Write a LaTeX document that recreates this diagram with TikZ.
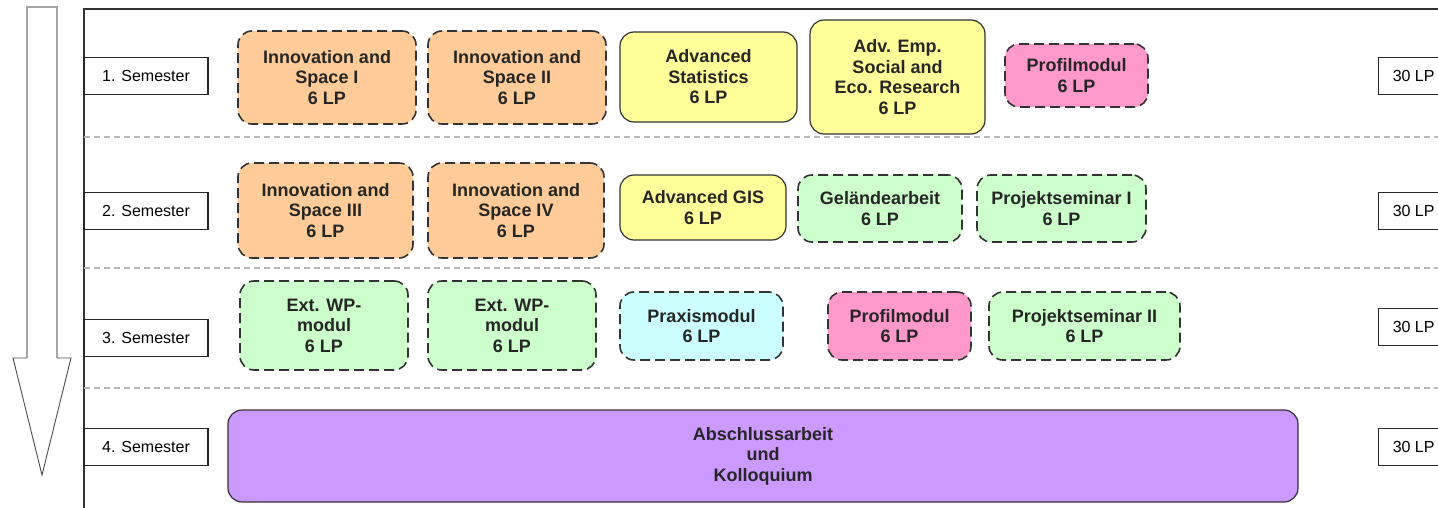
\documentclass[tikz,border=0pt]{standalone}
\usepackage{fontspec}
\setmainfont{Liberation Sans}
\usepackage{xcolor}

\definecolor{orangemod}{HTML}{FFCC99}
\definecolor{gelbmod}{HTML}{FFFF99}
\definecolor{rosamod}{HTML}{FF99CC}
\definecolor{gruenmod}{HTML}{CCFFCC}
\definecolor{tuerkismod}{HTML}{CCFFFF}
\definecolor{lilamod}{HTML}{CC99FF}

\newcommand{\modfont}{\fontsize{18}{20.5}\selectfont\bfseries}
\newcommand{\semfont}{\fontsize{16}{18}\selectfont}

\tikzset{
  modul/.style={draw=black!80, line width=1.2pt, rounded corners=14pt, align=center, font=\modfont, text=black!85, inner sep=0pt},
  wahlmodul/.style={modul, line width=1.6pt, dash pattern=on 10pt off 5pt},
  semester/.style={draw=black!85, line width=1.3pt, minimum width=124pt, minimum height=37pt, font=\semfont, inner sep=0pt},
  lpbox/.style={semester, minimum width=70pt, anchor=west},
  trenner/.style={draw=gray!55, line width=1.2pt, dash pattern=on 6pt off 4pt},
}

\begin{document}
\begin{tikzpicture}[x=1pt,y=-1pt]
    \useasboundingbox (0,0) rectangle (1438,508);
    \clip (0,0) rectangle (1438,508);
    % Zeitpfeil
    \draw[gray!70, line width=2pt] (27,358) -- (27,7) -- (57,7) -- (57,358);
    \draw[black!70, line width=0.9pt] (27,358) -- (13,358) -- (42,475) -- (71,358) -- (57,358);
    % Rahmen und Trennlinien
    \draw[black!80, line width=1.5pt] (84,508) -- (84,9) -- (1438,9);
    \foreach \y in {137,268,388}
        \draw[trenner] (84,\y) -- (1438,\y);
    % Semester und Leistungspunkte
    \node[semester] (sem1) at (146,76) {1. Semester};
    \node[semester] (sem2) at (146,211) {2. Semester};
    \node[semester] (sem3) at (146,338) {3. Semester};
    \node[semester] (sem4) at (146,447) {4. Semester};
    \node[lpbox] (lp1) at (1378,76) {30 LP};
    \node[lpbox] (lp2) at (1378,211) {30 LP};
    \node[lpbox] (lp3) at (1378,327) {30 LP};
    \node[lpbox] (lp4) at (1378,447) {30 LP};
    % 1. Semester
    \node[wahlmodul, fill=orangemod, minimum width=178pt, minimum height=93pt] (isp1) at (327,77.5) {Innovation and\\Space I\\6 LP};
    \node[wahlmodul, fill=orangemod, minimum width=178pt, minimum height=93pt] (isp2) at (517,77.5) {Innovation and\\Space II\\6 LP};
    \node[modul, fill=gelbmod, minimum width=177pt, minimum height=90pt] (stat) at (708.5,77) {Advanced\\Statistics\\6 LP};
    \node[modul, fill=gelbmod, minimum width=175pt, minimum height=114pt] (emp) at (897.5,77) {Adv. Emp.\\Social and\\Eco. Research\\6 LP};
    \node[wahlmodul, fill=rosamod, minimum width=143pt, minimum height=63pt] (prof1) at (1076.5,75.5) {Profilmodul\\6 LP};
    % 2. Semester
    \node[wahlmodul, fill=orangemod, minimum width=175pt, minimum height=95pt] (isp3) at (325.5,210.5) {Innovation and\\Space III\\6 LP};
    \node[wahlmodul, fill=orangemod, minimum width=176pt, minimum height=95pt] (isp4) at (516,210.5) {Innovation and\\Space IV\\6 LP};
    \node[modul, fill=gelbmod, minimum width=166pt, minimum height=65pt] (gis) at (703,207.5) {Advanced GIS\\6 LP};
    \node[wahlmodul, fill=gruenmod, minimum width=164pt, minimum height=67pt] (gel) at (880,208.5) {Geländearbeit\\6 LP};
    \node[wahlmodul, fill=gruenmod, minimum width=169pt, minimum height=67pt] (proj1) at (1061.5,208.5) {Projektseminar I\\6 LP};
    % 3. Semester
    \node[wahlmodul, fill=gruenmod, minimum width=168pt, minimum height=89pt] (wp1) at (324,325.5) {Ext. WP-\\modul\\6 LP};
    \node[wahlmodul, fill=gruenmod, minimum width=168pt, minimum height=89pt] (wp2) at (512,325.5) {Ext. WP-\\modul\\6 LP};
    \node[wahlmodul, fill=tuerkismod, minimum width=163pt, minimum height=68pt] (prax) at (701.5,326) {Praxismodul\\6 LP};
    \node[wahlmodul, fill=rosamod, minimum width=143pt, minimum height=68pt] (prof2) at (899.5,326) {Profilmodul\\6 LP};
    \node[wahlmodul, fill=gruenmod, minimum width=191pt, minimum height=68pt] (proj2) at (1084.5,326) {Projektseminar II\\6 LP};
    % 4. Semester
    \node[modul, fill=lilamod, minimum width=1070pt, minimum height=92pt] (arbeit) at (763,456) {Abschlussarbeit\\und\\Kolloquium};
\end{tikzpicture}
\end{document}
